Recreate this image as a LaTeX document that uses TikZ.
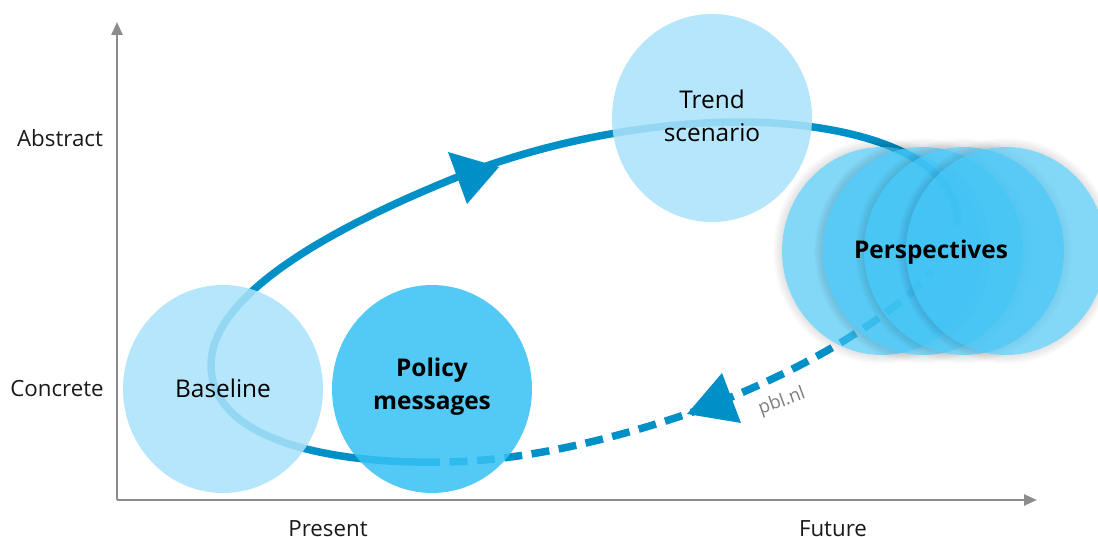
\documentclass[tikz,border=0pt]{standalone}
\usepackage{fontspec}
\setmainfont{Open Sans}
\usetikzlibrary{shapes.geometric,arrows.meta}
\definecolor{curveblue}{RGB}{0,144,200}
\definecolor{lightc}{RGB}{171,226,250}
\definecolor{midc}{RGB}{55,193,245}
\definecolor{perc}{RGB}{65,195,244}
\definecolor{axisgrey}{RGB}{140,140,140}
\tikzset{
  blob/.style={ellipse,minimum width=200pt,minimum height=208pt,inner sep=0pt,align=center},
  lightblob/.style={blob,fill=lightc,fill opacity=.87},
  midblob/.style={blob,fill=midc,fill opacity=.86},
  perblob/.style={blob,fill=perc,fill opacity=.65},
  haze/.style={fill=black,fill opacity=.010,even odd rule},
  captext/.style={font=\fontsize{24.4}{32.5}\selectfont,text=black,align=center,text opacity=1},
  capbold/.style={captext,font=\fontsize{24.4}{32.5}\selectfont\bfseries},
  axislabel/.style={font=\fontsize{22.3}{25}\selectfont,text=black!90,anchor=base,text depth=0pt,inner ysep=0pt},
  axisline/.style={draw=axisgrey,line width=2.4pt,-{Triangle[length=13pt,width=11pt]}},
  loopline/.style={draw=curveblue,line width=7.5pt},
  loopdash/.style={loopline,dash pattern=on 18pt off 9.5pt,dash phase=18pt},
  headfill/.style={fill=curveblue}
}
\newcommand{\hazeat}[2]{%
  \foreach \d in {1,2,...,9}{\fill[haze] (#1,#2) ellipse [x radius=100+\d, y radius=104+\d] (#1,#2) ellipse [x radius=100, y radius=104];}}
\begin{document}
\begin{tikzpicture}[x=1pt,y=-1pt]
\useasboundingbox (0,0) rectangle (1098,537);
\clip (0,0) rectangle (1098,537);
% axes
\coordinate (origin) at (117,500);
\coordinate (ytop) at (117,22);
\coordinate (xend) at (1037,500);
\draw[axisline] (origin) -- (ytop);
\draw[axisline] (origin) -- (xend);
% loop
\coordinate (split) at (440,462);
\coordinate (west) at (211,365);
\coordinate (up) at (470,172);
\coordinate (north) at (740,122);
\coordinate (east) at (958,225);
\coordinate (down) at (687,414);
\coordinate (dashend) at (932,272);
\draw[loopline] (split) .. controls (330,464) and (211,440) .. (west)
  .. controls (211,320) and (260,255) .. (up)
  .. controls (560,138) and (660,122) .. (north)
  .. controls (830,122) and (958,145) .. (east);
\draw[loopdash] (split) .. controls (520,462) and (610,440) .. (down)
  .. controls (770,385) and (880,330) .. (dashend);
% arrowheads
\coordinate (a1) at (448,152);
\coordinate (a2) at (499,167);
\coordinate (a3) at (467,204);
\coordinate (b1) at (722,373);
\coordinate (b2) at (687,414);
\coordinate (b3) at (741,423);
\fill[headfill] (a1) -- (a2) -- (a3) -- cycle;
\fill[headfill] (b1) -- (b2) -- (b3) -- cycle;
% circles
\node[lightblob] (baseline) at (223,389) {};
\node[midblob] (policy) at (432,389) {};
\node[lightblob] (trend) at (712,118) {};
\hazeat{882}{251}
\node[perblob] (p1) at (882,251) {};
\hazeat{923}{251}
\node[perblob] (p2) at (923,251) {};
\hazeat{964}{251}
\node[perblob] (p3) at (964,251) {};
\hazeat{1006}{251}
\node[perblob] (p4) at (1006,251) {};
% texts
\node[captext] (tb) at (223,388) {Baseline};
\node[capbold] (tp) at (432,386.5) {Policy\\messages};
\node[captext] (tt) at (712,116) {Trend\\scenario};
\node[capbold] (tper) at (931,252) {Perspectives};
\node[axislabel] (abs) at (60,146.5) {Abstract};
\node[axislabel] (con) at (57,396.5) {Concrete};
\node[axislabel] (pre) at (328,536.5) {Present};
\node[axislabel] (fut) at (833,536.5) {Future};
\node[font=\fontsize{18.5}{20}\selectfont,text=axisgrey!90!black,rotate=20,inner sep=0pt] (pbl) at (782,402) {pbl.nl};
\end{tikzpicture}
\end{document}
